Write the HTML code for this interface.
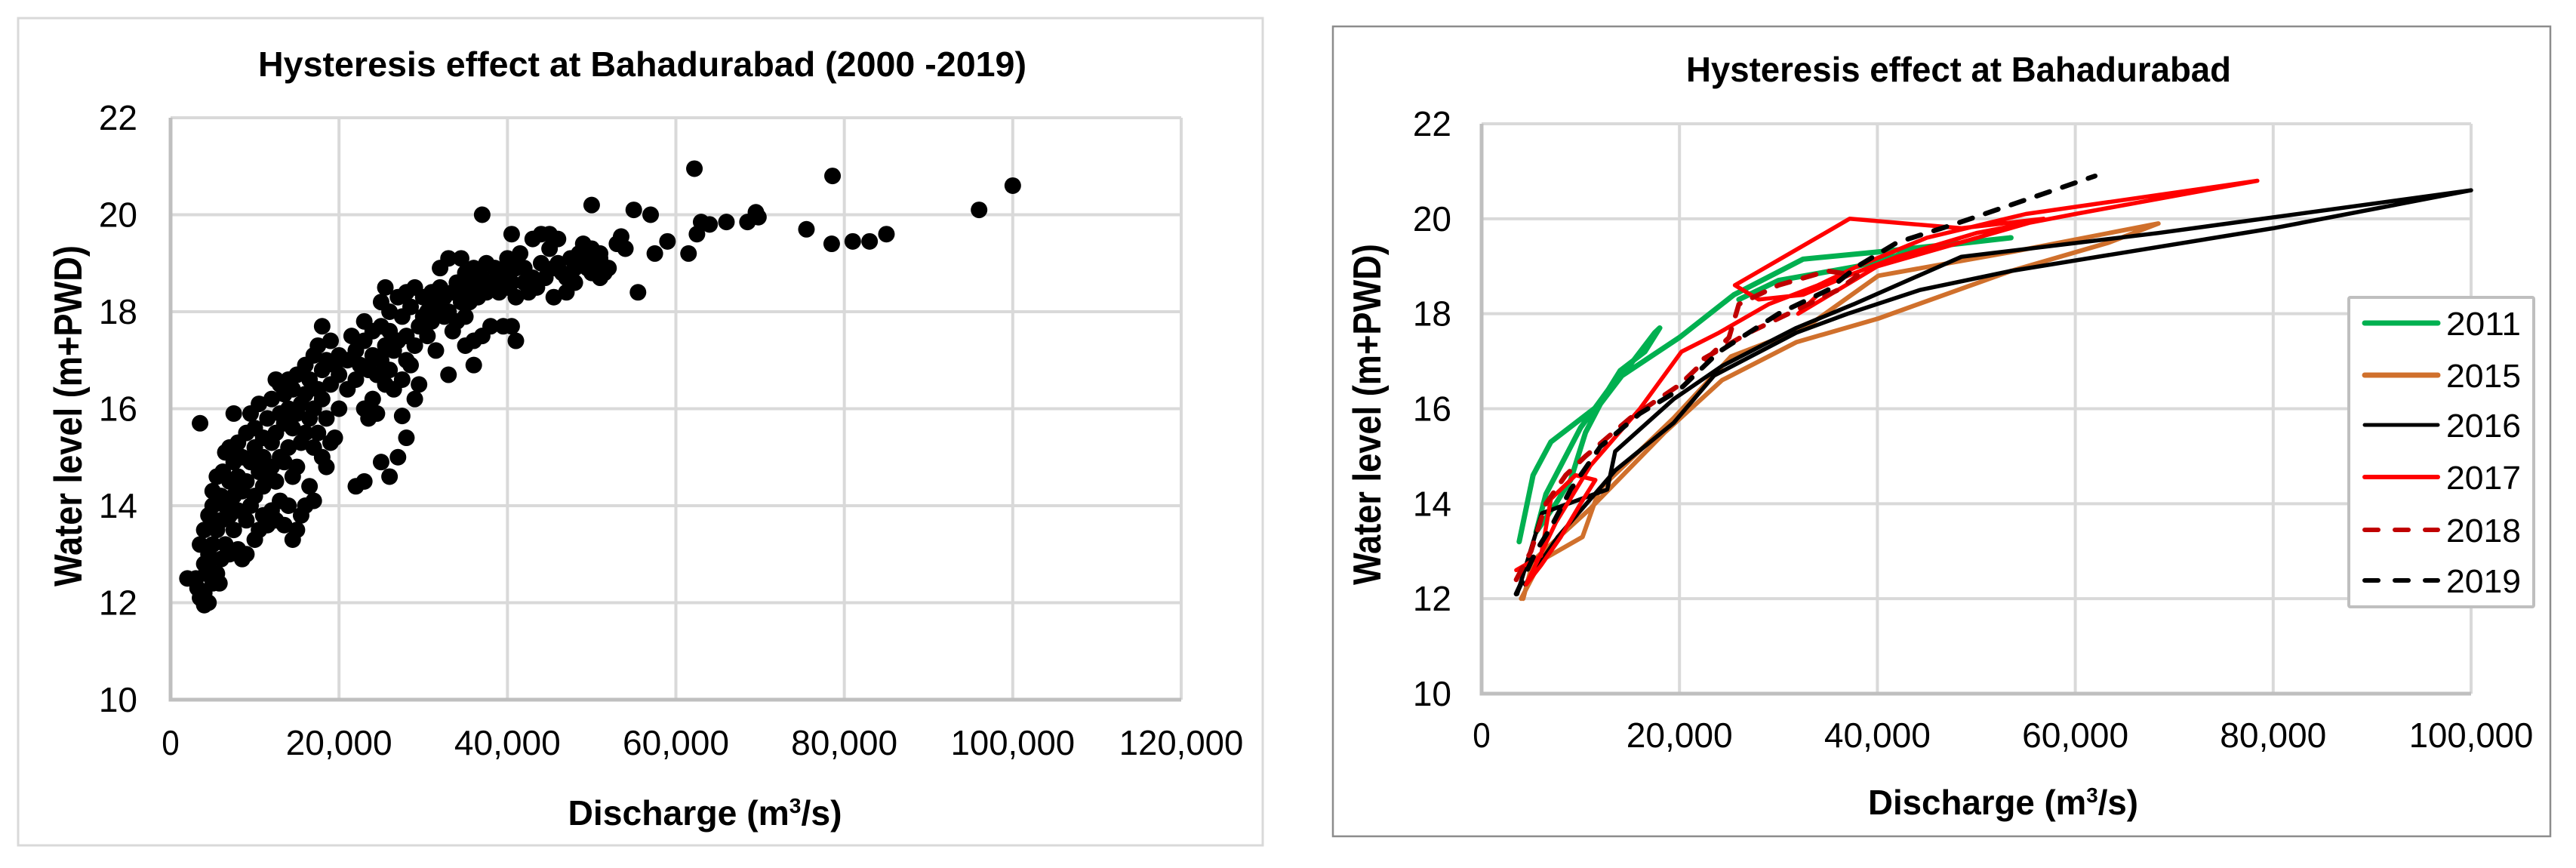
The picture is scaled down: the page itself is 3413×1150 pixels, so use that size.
<!DOCTYPE html>
<html><head><meta charset="utf-8"><title>Hysteresis effect at Bahadurabad</title>
<style>html,body{margin:0;padding:0;background:#fff;}svg{display:block;font-family:"Liberation Sans",Arial,sans-serif;}</style>
</head><body>
<svg id="root" width="3413" height="1150" viewBox="0 0 3413 1150" xmlns="http://www.w3.org/2000/svg">
<rect x="0" y="0" width="3413" height="1150" fill="#fff"/>
<g id="left"></g>
<g id="right"></g>
</svg>
<script>
// ---------- data ----------
const xTicksLeft = [0, 20, 40, 60, 80, 100, 120];          // thousand m3/s
const xTickLabelsLeft = ["0","20,000","40,000","60,000","80,000","100,000","120,000"];
const xTicksRight = [0, 20, 40, 60, 80, 100];
const xTickLabelsRight = ["0","20,000","40,000","60,000","80,000","100,000"];
const yTicks = [10, 12, 14, 16, 18, 20, 22];
const yTickLabels = ["10","12","14","16","18","20","22"];

// scatter (discharge in thousand m3/s, water level m+PWD)
const scatterPoints = [
[3,12.5],[3.5,13.2],[4,12.2],[4,12.8],[4,13.5],[4.5,12.0],[4.5,13.0],[4.5,13.8],[5,12.4],[5,13.2],[5,14.0],[5,14.3],[5.5,12.6],[5.5,13.5],[5.5,14.6],[6,12.9],[6,13.7],[6,14.2],[3.2,12.3],[3.8,12.05],[4.2,12.6],[4.8,12.9],[5.2,13.7],[5.8,12.4],[6.2,14.7],[6.5,13.2],[6.5,14.0],[6.5,15.1],[7,13.0],[7,13.8],[7,14.5],[7,15.2],[7.5,13.5],[7.5,14.2],[7.5,14.9],[8,13.1],[8,13.9],[8,14.6],[8,15.3],[8.5,12.9],[8.5,14.3],[8.5,15.0],[9,13.0],[9,13.7],[9,14.5],[9,15.5],[9.5,14.0],[9.5,14.9],[9.5,15.9],[10,13.3],[10,14.2],[10,15.2],[10,15.6],[10.5,13.5],[10.5,14.7],[10.5,16.1],[11,13.8],[11,14.4],[11,15.0],[11,15.4],[11.5,13.6],[11.5,14.6],[11.5,15.8],[12,13.9],[12,14.8],[12,15.3],[12,16.2],[12.5,13.7],[12.5,14.5],[12.5,15.5],[12.5,16.6],[13,14.1],[13,15.0],[13,15.9],[13,16.5],[13.5,13.6],[13.5,14.9],[13.5,15.7],[13.5,16.3],[14,14.0],[14,15.2],[14,16.0],[14,16.6],[14.5,13.3],[14.5,14.6],[14.5,15.6],[14.5,16.4],[15,13.5],[15,14.8],[15,15.9],[15,16.7],[15.5,13.8],[15.5,15.3],[15.5,16.1],[16,14.0],[16,15.5],[16,16.3],[16,16.9],[16.5,14.4],[16.5,15.8],[16.5,16.6],[17,14.1],[17,15.2],[17,16.0],[17,17.1],[17.5,15.5],[17.5,16.4],[17.5,17.3],[18,15.0],[18,16.2],[18,16.8],[18,17.7],[18.5,14.8],[18.5,15.8],[18.5,17.0],[19,15.3],[19,16.5],[19,17.4],[19.5,15.4],[19.5,16.9],[20,16.0],[20,16.7],[20,17.1],[21,16.4],[21,17.0],[21.5,17.5],[22,16.6],[22,17.2],[22.5,16.9],[23,16.0],[23,17.4],[23,17.8],[23.5,15.8],[23.5,16.8],[24,16.2],[24,17.1],[24,17.6],[24.5,15.9],[24.5,16.7],[25,17.0],[25,17.7],[25,18.2],[25.5,16.5],[25.5,17.3],[25.5,18.5],[26,16.8],[26,17.6],[26,18.0],[26.5,16.4],[26.5,17.2],[27,17.4],[27,18.3],[27.5,16.6],[27.5,17.9],[28,17.0],[28,17.5],[28,18.4],[28.5,16.9],[28.5,18.1],[29,16.2],[29,17.3],[29,18.5],[29.5,16.5],[29.5,17.7],[30,17.9],[30,18.3],[30.5,17.5],[30.5,18.0],[31,17.8],[31,18.4],[31.5,17.2],[31.5,18.1],[32,18.5],[32,18.9],[32.5,17.9],[32.5,18.3],[33,18.0],[33,19.1],[33.5,17.6],[33.5,18.4],[34,17.8],[34,18.6],[34.5,18.2],[34.5,19.1],[35,17.9],[35,18.4],[35,18.8],[35.5,18.2],[35.5,18.6],[36,17.4],[36,18.5],[36,18.9],[36.5,18.3],[37,17.5],[37,18.7],[37.5,18.4],[37.5,19.0],[38,17.7],[38,18.6],[38.5,18.9],[39,18.4],[39,18.7],[39.5,18.8],[39.5,17.7],[40,18.5],[40,19.1],[40.5,18.6],[40.5,19.6],[41,18.3],[41,18.9],[41.5,19.2],[42,18.6],[42,18.9],[42.5,18.4],[43,18.7],[43,19.5],[43.5,18.5],[44,19.0],[44,19.6],[44.5,18.7],[45,19.3],[45,19.6],[45.5,18.3],[45.5,18.9],[46,19.0],[46,19.5],[46.5,18.8],[47,18.4],[47,18.7],[47.5,19.1],[48,18.6],[48,18.9],[48.5,19.2],[49,19.1],[49,19.4],[49.5,18.9],[50,18.8],[50,19.3],[50.5,19.0],[51,18.7],[51,19.1],[51.5,18.8],[52,18.9],[53,19.4],
[3.5,15.7],[7.5,15.9],[22,14.4],[23,14.5],[25,14.9],[26,14.6],[27,15.0],[28,15.4],[27.5,15.85],[37,20.0],[50,20.2],[55,20.1],[57,20.0],[62.2,20.95],[78.6,20.8],[96,20.1],[100,20.6],[55.5,18.4],[61.5,19.2],[62.5,19.6],[63,19.85],[64,19.8],[66,19.85],[68.5,19.85],[69.5,20.05],[69.8,19.95],[75.5,19.7],[78.5,19.4],[81,19.45],[83,19.45],[85,19.6],[57.5,19.2],[59,19.45],[53.5,19.55],[54,19.3],[51,19.2],[41,17.4],[40.5,17.7],[36,16.9],[33,16.7],[35,17.3],[2,12.5],[4,11.95],[3.5,12.1]
];

// hysteresis loops (discharge thousand m3/s, water level)
const series2011 = [[3.8,13.2],[5.2,14.6],[7,15.3],[12,16.1],[17.5,17.6],[18,17.7],[16.5,17.2],[14,16.8],[12.5,16.3],[10.5,15.5],[9,14.5],[7.5,14.0],[5.5,13.4],[6.5,14.2],[10,15.6],[13.5,16.6],[20,17.5],[25.5,18.4],[32.5,19.15],[40,19.3],[53.5,19.6],[45,19.4],[38,19.0],[30,18.7],[26,18.3]];
const series2015 = [[4,12.0],[6,12.8],[10.2,13.3],[11.9,14.3],[19.4,15.8],[25.2,17.1],[32.7,17.7],[40.1,18.8],[53.5,19.3],[68.4,19.9],[63.4,19.5],[53.5,18.9],[40.1,17.9],[31.8,17.4],[24.3,16.6],[18.5,15.5],[11,13.9],[5.2,12.8],[4.2,12.0]];
const series2016 = [[3.6,12.1],[6.1,13.8],[12.7,14.3],[13.5,15.1],[19.4,16.2],[24.3,16.9],[31.8,17.7],[37.6,18.2],[48.5,19.2],[68.4,19.7],[100,20.6],[80,19.8],[53.5,18.9],[44.3,18.5],[37,18.0],[31.8,17.6],[23.5,16.7],[19.4,15.7],[13.5,14.7],[7.7,13.3],[4.4,12.3]];
const series2017 = [[3.5,12.6],[6,12.9],[7,14.1],[9.5,14.6],[11.5,14.5],[10,14.0],[8,13.3],[6,12.7],[4.5,12.3],[7.5,13.6],[11,14.8],[16,16.0],[20.2,17.2],[24,17.6],[29,18.2],[34,18.6],[38,19.0],[45,19.6],[55,20.1],[78.4,20.8],[60,20.1],[50,19.7],[42,19.2],[37,18.8],[32.5,18.4],[28,18.3],[25.6,18.6],[37.2,20.0],[48.5,19.8],[56.8,20.0],[40,19.0],[32,18.0],[34,18.4]];
const series2018 = [[3.5,12.4],[5,13.0],[6.5,14.0],[8.5,14.6],[10.5,15.0],[15,15.8],[20,16.5],[25,17.5],[26,18.2],[30,18.6],[35,18.9],[38,18.8],[36,18.5],[33,18.2],[30,17.9],[27,17.6],[22,17.0]];
const series2019 = [[3.5,12.1],[5.5,13.0],[7,13.5],[9,14.3],[12,15.2],[16,15.9],[20,16.4],[24,17.2],[30,18.0],[35,18.5],[38,19.0],[42,19.5],[48,19.9],[55,20.4],[62,20.9]];
const seriesNames = ["2011","2015","2016","2017","2018","2019"];

// ---------- drawing ----------
const NS = "http://www.w3.org/2000/svg";
function mk(parent, tag, attrs, text){
  const e = document.createElementNS(NS, tag);
  for (const k in attrs) e.setAttribute(k, attrs[k]);
  if (text !== undefined) e.textContent = text;
  parent.appendChild(e); return e;
}
function scale(d0,d1,p0,p1){ return v => p0 + (v-d0)/(d1-d0)*(p1-p0); }

function drawFrame(g, P, frameColor, frameW){
  const fr = mk(g,'rect',{x:P.fx,y:P.fy,width:P.fw,height:P.fh,fill:'#fff',stroke:frameColor,'stroke-width':frameW});
  
  
}

function drawAxes(g, P, xTicks, xLabels, X, Y){
  for (let i=0;i<yTicks.length;i++){
    const y = Y(yTicks[i]);
    if (i>0){
      const l = mk(g,'line',{x1:P.x0,x2:P.x1,y1:y,y2:y,stroke:'#d9d9d9','stroke-width':4});
      
      
    }
    const t = mk(g,'text',{x:P.ylabX,y:y+16,'text-anchor':'end','font-size':46,fill:'#000'},yTickLabels[i]);
    
    
  }
  for (let i=0;i<xTicks.length;i++){
    const x = X(xTicks[i]);
    if (i>0){
      const l = mk(g,'line',{x1:x,x2:x,y1:P.y0,y2:P.y1,stroke:'#d9d9d9','stroke-width':4});
      
      
    }
    const t = mk(g,'text',{x:x,y:P.xlabY,'text-anchor':'middle','font-size':46,fill:'#000',textLength:xLabels[i].length*23.5,lengthAdjust:'spacingAndGlyphs'},xLabels[i]);
    
    
  }
  const ax = mk(g,'polyline',{points:`${P.x0},${P.y1} ${P.x0},${P.y0} ${P.x1},${P.y0}`,fill:'none',stroke:'#bfbfbf','stroke-width':5});
  
  
}

function drawTitles(g, P){
  const t = mk(g,'text',{x:P.tx,y:P.ty,'text-anchor':'middle','font-size':46,'font-weight':'bold',textLength:P.tw,lengthAdjust:'spacingAndGlyphs'},P.title);
  
  
  const xt = mk(g,'text',{x:P.xtx,y:P.xty,'text-anchor':'middle','font-size':46,'font-weight':'bold',textLength:P.xtw,lengthAdjust:'spacingAndGlyphs'});
  xt.appendChild(document.createTextNode('Discharge (m'));
  mk(xt,'tspan',{'font-size':28,dy:-16},'3');
  mk(xt,'tspan',{dy:16},'/s)');
  
  
  const yt = mk(g,'text',{x:0,y:0,'text-anchor':'middle','font-size':52,'font-weight':'bold',textLength:452,lengthAdjust:'spacingAndGlyphs',transform:`translate(${P.ytx},${P.yty}) rotate(-90)`},'Water level (m+PWD)');
  
  
}

// Left chart
(function(){
  const g = document.getElementById('left');
  const P = {fx:24,fy:24,fw:1649,fh:1096,x0:226,x1:1565,y0:927,y1:156,ylabX:182,xlabY:1000,
    title:'Hysteresis effect at Bahadurabad (2000 -2019)',tx:851,ty:101,tw:1018,
    xtx:934,xty:1093,xtw:363,ytx:108,yty:551};
  drawFrame(g,P,'#d9d9d9',3);
  const X = scale(0,120,P.x0,P.x1), Y = scale(10,22,P.y0,P.y1);
  drawAxes(g,P,xTicksLeft,xTickLabelsLeft,X,Y);
  const pg = mk(g,'g',{});
  
  
  for (const p of scatterPoints){
    const c = mk(pg,'circle',{cx:X(p[0]),cy:Y(p[1]),r:11,fill:'#000'});
    
    
  }
  drawTitles(g,P);
})();

// Right chart
(function(){
  const g = document.getElementById('right');
  const P = {fx:1766,fy:35,fw:1613,fh:1073,x0:1963,x1:3274,y0:919,y1:164,ylabX:1923,xlabY:990,
    title:'Hysteresis effect at Bahadurabad',tx:2595,ty:108,tw:722,
    xtx:2654,xty:1079,xtw:358,ytx:1829,yty:549};
  drawFrame(g,P,'#8c8c8c',2.5);
  const X = scale(0,100,P.x0,P.x1), Y = scale(10,22,P.y0,P.y1);
  drawAxes(g,P,xTicksRight,xTickLabelsRight,X,Y);
  const all = [series2011,series2015,series2016,series2017,series2018,series2019];
  const colors = ['#00b050','#d0702c','#000000','#ff0000','#c00000','#000000'];
  const widths = [7,6,5.5,5.5,6.5,6.5];
  const dashes = ['none','none','none','none','18 18','18 18'];
  const order = [1,0,2,3,4,5];
  for (const i of order){
    const pts = all[i].map(p=>`${X(p[0]).toFixed(1)},${Y(p[1]).toFixed(1)}`).join(' ');
    const pl = mk(g,'polyline',{points:pts,fill:'none',stroke:colors[i],'stroke-width':widths[i],'stroke-dasharray':dashes[i],'stroke-linejoin':'round','stroke-linecap':'round'});
    
    
  }
  // legend
  const lg = mk(g,'g',{});
  
  
  const lb = mk(lg,'rect',{x:3112,y:394,width:245,height:410,fill:'#fff',stroke:'#bfbfbf','stroke-width':4,rx:2});
  
  
  const rowY = [428,497,563,632,702,769];
  for (let i=0;i<6;i++){
    const e = mk(lg,'g',{});
    
    
    mk(e,'line',{x1:3133,x2:3230,y1:rowY[i],y2:rowY[i],stroke:colors[i],'stroke-width':i<2?7:(i===2?5:6),'stroke-linecap':'round','stroke-dasharray':i>=4?'18 22':'none'});
    mk(e,'text',{x:3241,y:rowY[i]+16,'font-size':44,fill:'#000',textLength:99,lengthAdjust:'spacingAndGlyphs'},seriesNames[i]);
  }
  drawTitles(g,P);
})();
</script>
</body></html>
